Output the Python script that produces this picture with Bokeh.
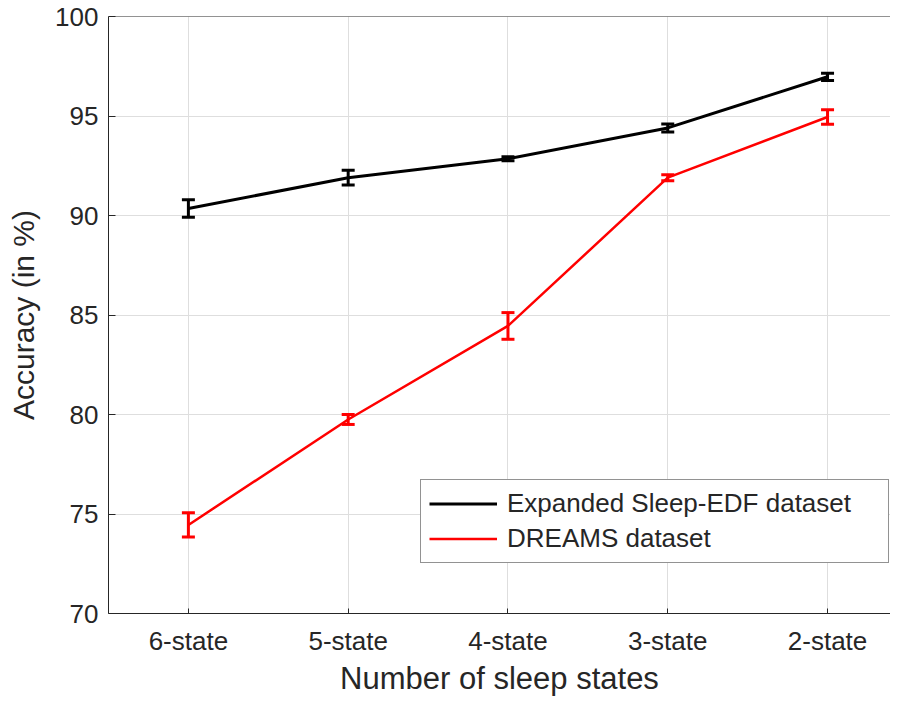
from bokeh.plotting import figure
from bokeh.models import (FixedTicker, Range1d, ColumnDataSource,
                          Whisker, TeeHead, Legend, LegendItem, Span)
from bokeh.embed import file_html
from bokeh.resources import INLINE

# ---- data ----
categories = ["6-state", "5-state", "4-state", "3-state", "2-state"]
sleep_edf_acc = [90.35, 91.9, 92.85, 94.4, 96.97]
sleep_edf_err = [0.44, 0.37, 0.1, 0.2, 0.18]
dreams_acc = [74.45, 79.75, 84.45, 91.9, 94.95]
dreams_err = [0.61, 0.25, 0.67, 0.15, 0.37]
y_ticks = [70, 75, 80, 85, 90, 95, 100]
series_names = ["Expanded Sleep-EDF dataset", "DREAMS dataset"]

x_pos = list(range(1, len(categories) + 1))

FONT = "Liberation Sans"
TXT = "#262626"

p = figure(width=890, height=698, output_backend="svg", toolbar_location=None,
           x_range=Range1d(0.5, 5.394), y_range=Range1d(70, 100),
           min_border_left=108, min_border_right=0, min_border_top=16,
           min_border_bottom=10)
p.outline_line_color = None
p.background_fill_color = "white"

# grid
p.xgrid.ticker = FixedTicker(ticks=x_pos)
p.ygrid.ticker = FixedTicker(ticks=y_ticks)
for g in (p.xgrid[0], p.ygrid[0]):
    g.grid_line_color = "#dedede"
    g.grid_line_width = 1

# axes
xa = p.xaxis[0]
xa.ticker = FixedTicker(ticks=x_pos)
xa.major_label_overrides = {i: c for i, c in zip(x_pos, categories)}
xa.axis_label = "Number of sleep states"
ya = p.yaxis[0]
ya.ticker = FixedTicker(ticks=y_ticks)
ya.axis_label = "Accuracy (in %)"

for ax in (xa, ya):
    ax.axis_line_color = TXT
    ax.axis_line_width = 1
    ax.major_tick_line_color = TXT
    ax.major_tick_out = 0
    ax.minor_tick_line_color = None
    ax.major_label_text_font = FONT
    ax.major_label_text_font_size = "26px"
    ax.major_label_text_color = TXT
    ax.axis_label_text_font = FONT
    ax.axis_label_text_font_style = "normal"
    ax.axis_label_text_color = TXT
xa.axis_label_text_font_size = "31px"
ya.axis_label_text_font_size = "30px"
xa.major_tick_in = 5
ya.major_tick_in = 7
xa.major_label_standoff = 12
xa.axis_label_standoff = 2
ya.major_label_standoff = 10
ya.axis_label_standoff = 12

# top border of the box
top_border = Span(location=y_ticks[-1], dimension="width", line_color=TXT, line_width=1)
p.add_layout(top_border)

# series
src_a = ColumnDataSource(dict(x=x_pos, y=sleep_edf_acc,
                              lo=[v - e for v, e in zip(sleep_edf_acc, sleep_edf_err)],
                              hi=[v + e for v, e in zip(sleep_edf_acc, sleep_edf_err)]))
src_b = ColumnDataSource(dict(x=x_pos, y=dreams_acc,
                              lo=[v - e for v, e in zip(dreams_acc, dreams_err)],
                              hi=[v + e for v, e in zip(dreams_acc, dreams_err)]))

r_a = p.line("x", "y", source=src_a, line_color="black", line_width=3)
r_b = p.line("x", "y", source=src_b, line_color="#ff0000", line_width=2.5)

for src, col in ((src_a, "black"), (src_b, "#ff0000")):
    w = Whisker(source=src, base="x", lower="lo", upper="hi",
                line_color=col, line_width=3,
                upper_head=TeeHead(size=13, line_color=col, line_width=3),
                lower_head=TeeHead(size=13, line_color=col, line_width=3))
    p.add_layout(w)

legend = Legend(items=[LegendItem(label=series_names[0], renderers=[r_a]),
                       LegendItem(label=series_names[1], renderers=[r_b])],
                location=(312, 50), orientation="vertical")
legend.label_text_font = FONT
legend.label_text_font_size = "26px"
legend.label_text_color = TXT
legend.glyph_width = 68
legend.glyph_height = 29
legend.label_height = 29
legend.label_width = 373
legend.label_standoff = 10
legend.spacing = 4
legend.padding = 8
legend.margin = 0
legend.border_line_color = TXT
legend.border_line_width = 1
legend.background_fill_alpha = 1
p.add_layout(legend, "center")

open("out.html", "w").write(file_html(p, INLINE))
